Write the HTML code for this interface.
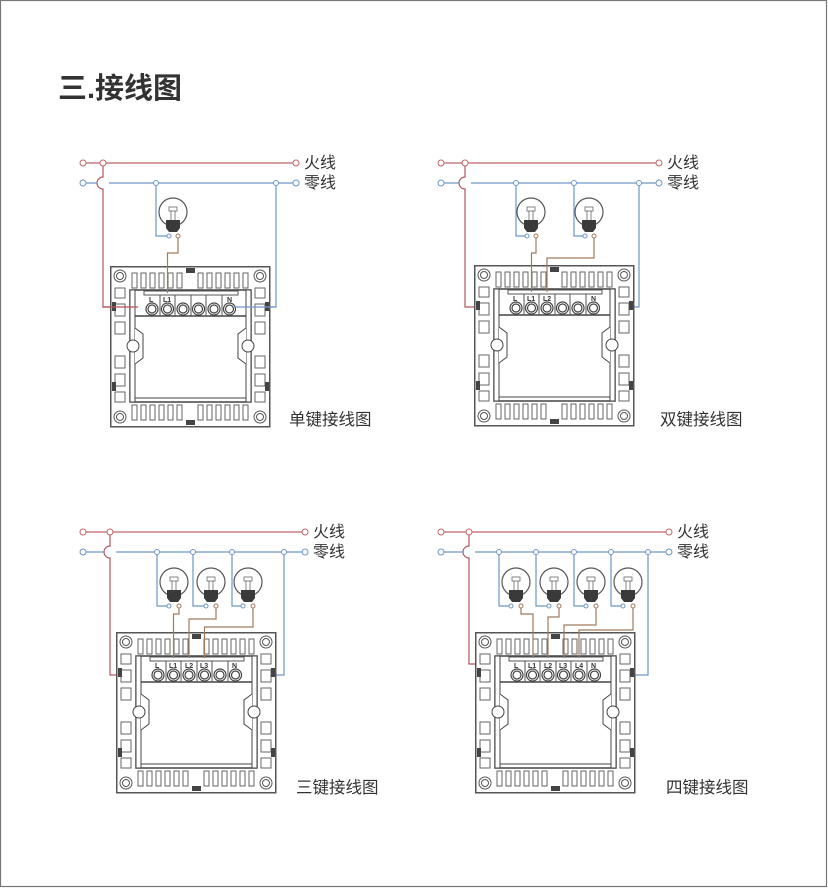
<!DOCTYPE html>
<html><head><meta charset="utf-8">
<style>
html,body{margin:0;padding:0;background:#fff;}
svg{display:block;}
text{font-family:"Liberation Sans","Noto Sans CJK SC",sans-serif;}
</style></head>
<body>
<svg width="828" height="888" viewBox="0 0 828 888" xmlns="http://www.w3.org/2000/svg">
<defs>
<g id="plate">
  <rect x="0.75" y="0.75" width="159" height="160" fill="#fff" stroke="#555" stroke-width="1.5"/>
  <g fill="#fff" stroke="#555" stroke-width="1">
    <circle cx="10" cy="10" r="6"/><circle cx="10" cy="10" r="3.5"/>
    <circle cx="150" cy="10" r="6"/><circle cx="150" cy="10" r="3.5"/>
    <circle cx="10" cy="151" r="6"/><circle cx="10" cy="151" r="3.5"/>
    <circle cx="150" cy="151" r="6"/><circle cx="150" cy="151" r="3.5"/>
  </g>
  <g fill="none" stroke="#666" stroke-width="1">
    <rect x="22" y="7" width="5" height="15"/><rect x="31" y="7" width="5" height="15"/><rect x="40" y="7" width="5" height="15"/><rect x="49" y="7" width="5" height="15"/><rect x="58" y="7" width="5" height="15"/><rect x="67" y="7" width="5" height="15"/>
    <rect x="88" y="7" width="5" height="15"/><rect x="97" y="7" width="5" height="15"/><rect x="106" y="7" width="5" height="15"/><rect x="115" y="7" width="5" height="15"/><rect x="124" y="7" width="5" height="15"/><rect x="133" y="7" width="5" height="15"/>
    <rect x="22" y="139" width="5" height="15"/><rect x="31" y="139" width="5" height="15"/><rect x="40" y="139" width="5" height="15"/><rect x="49" y="139" width="5" height="15"/><rect x="58" y="139" width="5" height="15"/><rect x="67" y="139" width="5" height="15"/>
    <rect x="88" y="139" width="5" height="15"/><rect x="97" y="139" width="5" height="15"/><rect x="106" y="139" width="5" height="15"/><rect x="115" y="139" width="5" height="15"/><rect x="124" y="139" width="5" height="15"/><rect x="133" y="139" width="5" height="15"/>
    <rect x="5" y="22" width="10" height="10"/><rect x="5" y="38" width="10" height="12"/><rect x="5" y="56" width="10" height="12"/><rect x="5" y="90" width="10" height="12"/><rect x="5" y="108" width="10" height="12"/><rect x="5" y="126" width="10" height="10"/>
    <rect x="145" y="22" width="10" height="10"/><rect x="145" y="38" width="10" height="12"/><rect x="145" y="56" width="10" height="12"/><rect x="145" y="90" width="10" height="12"/><rect x="145" y="108" width="10" height="12"/><rect x="145" y="126" width="10" height="10"/>
  </g>
  <rect x="76" y="2" width="9" height="5" fill="#444"/>
  <rect x="76" y="154" width="9" height="5" fill="#444"/>
  <rect x="2" y="36" width="4" height="9" fill="#444"/>
  <rect x="2" y="116" width="4" height="9" fill="#444"/>
  <rect x="155" y="36" width="4" height="9" fill="#444"/>
  <rect x="155" y="116" width="4" height="9" fill="#444"/>
  <rect x="20" y="24" width="121" height="112" fill="#fff" stroke="#444" stroke-width="1.5"/>
  <rect x="20" y="24" width="5" height="112" fill="#fff" stroke="#444" stroke-width="1"/>
  <rect x="136" y="24" width="5" height="112" fill="#fff" stroke="#444" stroke-width="1"/>
  <line x1="25" y1="132" x2="136" y2="132" stroke="#444" stroke-width="1"/>
  <path d="M25 62 L33 68 L33 92 L25 98" fill="#fff" stroke="#444" stroke-width="1"/>
  <path d="M136 62 L128 68 L128 92 L136 98" fill="#fff" stroke="#444" stroke-width="1"/>
  <circle cx="23" cy="80" r="6" fill="#fff" stroke="#444" stroke-width="1"/>
  <circle cx="138" cy="80" r="6" fill="#fff" stroke="#444" stroke-width="1"/>
  <rect x="34" y="25" width="94" height="4" fill="#fff" stroke="#555" stroke-width="1"/>
  <line x1="25" y1="50" x2="136" y2="50" stroke="#444" stroke-width="1.5"/>
  <g fill="#fff" stroke="#444" stroke-width="1.2">
    <circle cx="42" cy="43" r="6"/><circle cx="57.5" cy="43" r="6"/><circle cx="73" cy="43" r="6"/><circle cx="88.5" cy="43" r="6"/><circle cx="104" cy="43" r="6"/><circle cx="119.5" cy="43" r="6"/>
    <circle cx="42" cy="43" r="4"/><circle cx="57.5" cy="43" r="4"/><circle cx="73" cy="43" r="4"/><circle cx="88.5" cy="43" r="4"/><circle cx="104" cy="43" r="4"/><circle cx="119.5" cy="43" r="4"/>
  </g>
  <g stroke="#555" stroke-width="1"><line x1="50" y1="29" x2="50" y2="50"/><line x1="65" y1="29" x2="65" y2="50"/><line x1="81" y1="29" x2="81" y2="50"/><line x1="96" y1="29" x2="96" y2="50"/><line x1="112" y1="29" x2="112" y2="50"/></g>
</g>
<g id="bulb">
  <circle cx="0" cy="0" r="14" fill="#fff" stroke="#555" stroke-width="1.2"/>
  <rect x="-4" y="-5" width="8" height="4" fill="none" stroke="#666" stroke-width="0.8"/>
  <path d="M-2 -1 V8 M2 -1 V8" stroke="#666" stroke-width="0.8"/>
  <path d="M-7 8 H7 V16 L4 20 H-4 L-7 16 Z" fill="#3a3a3a"/>
</g>
</defs>

<rect x="0.5" y="0.5" width="826" height="886" fill="#fff" stroke="#777" stroke-width="1.2"/>
<text x="58" y="98" font-size="29" font-weight="bold" fill="#333">三.接线图</text>

<g font-size="16" fill="#333">
<g fill="none" stroke-width="1.2">
  <path d="M83 163 H296" stroke="#c0656a"/>
  <path d="M103 163 V177 A6 6 0 0 0 103 189 V307 H140" stroke="#b5545a"/>
  <path d="M83 183 H97 M109 183 H296" stroke="#6e96c8"/>
  <path d="M156 183 V236 H169" stroke="#6e96c8"/>
  <path d="M232 307 H276 V183" stroke="#6e96c8"/>
</g>
<use href="#plate" x="110" y="266"/>
<use href="#bulb" x="173" y="212"/>
<path d="M178 236 V253 H167.5 V293" fill="none" stroke="#a07a5e" stroke-width="1.2"/>
<path d="M103 307 H138" stroke="#b5545a" stroke-width="1.2"/>
<path d="M234 307 H276" stroke="#6e96c8" stroke-width="1.2"/>
<g fill="#fff" stroke-width="1">
  <circle cx="83" cy="163" r="3" stroke="#c0656a"/><circle cx="103" cy="163" r="3" stroke="#c0656a"/><circle cx="296" cy="163" r="3" stroke="#c0656a"/>
  <circle cx="83" cy="183" r="3" stroke="#6e96c8"/><circle cx="156" cy="183" r="2.5" stroke="#6e96c8"/><circle cx="276" cy="183" r="2.5" stroke="#6e96c8"/><circle cx="296" cy="183" r="3" stroke="#6e96c8"/>
  <circle cx="169" cy="236" r="2" stroke="#6e96c8"/><circle cx="178" cy="236" r="2" stroke="#a07a5e"/>
</g>
<g font-size="7" font-weight="bold" fill="#333"><text x="149" y="302">L</text><text x="163" y="302">L1</text><text x="227" y="302">N</text></g>
<text x="304" y="168">火线</text><text x="304" y="188">零线</text>
<text x="289" y="425" font-size="16.5">单键接线图</text>

<g fill="none" stroke-width="1.2">
  <path d="M441 163 H659" stroke="#c0656a"/>
  <path d="M465 163 V177 A6 6 0 0 0 465 189 V307 H502" stroke="#b5545a"/>
  <path d="M441 183 H459 M471 183 H659" stroke="#6e96c8"/>
  <path d="M516 183 V236 H527" stroke="#6e96c8"/>
  <path d="M574 183 V236 H585" stroke="#6e96c8"/>
  <path d="M596 307 H639 V183" stroke="#6e96c8"/>
</g>
<use href="#plate" x="474" y="265"/>
<use href="#bulb" x="531" y="212"/>
<use href="#bulb" x="589" y="212"/>
<path d="M536 236 V253 H531.5 V292" fill="none" stroke="#a07a5e" stroke-width="1.2"/>
<path d="M594 236 V258 H547 V292" fill="none" stroke="#a07a5e" stroke-width="1.2"/>
<g fill="#fff" stroke-width="1">
  <circle cx="441" cy="163" r="3" stroke="#c0656a"/><circle cx="465" cy="163" r="3" stroke="#c0656a"/><circle cx="659" cy="163" r="3" stroke="#c0656a"/>
  <circle cx="441" cy="183" r="3" stroke="#6e96c8"/><circle cx="516" cy="183" r="2.5" stroke="#6e96c8"/><circle cx="574" cy="183" r="2.5" stroke="#6e96c8"/><circle cx="639" cy="183" r="2.5" stroke="#6e96c8"/><circle cx="659" cy="183" r="3" stroke="#6e96c8"/>
  <circle cx="527" cy="236" r="2" stroke="#6e96c8"/><circle cx="536" cy="236" r="2" stroke="#a07a5e"/>
  <circle cx="585" cy="236" r="2" stroke="#6e96c8"/><circle cx="594" cy="236" r="2" stroke="#a07a5e"/>
</g>
<g font-size="7" font-weight="bold" fill="#333"><text x="513" y="301">L</text><text x="527" y="301">L1</text><text x="543" y="301">L2</text><text x="591" y="301">N</text></g>
<text x="667" y="168">火线</text><text x="667" y="188">零线</text>
<text x="660" y="425" font-size="16.5">双键接线图</text>

<g fill="none" stroke-width="1.2">
  <path d="M83 532 H305" stroke="#c0656a"/>
  <path d="M110 532 V546 A6 6 0 0 0 110 558 V675 H148" stroke="#b5545a"/>
  <path d="M83 552 H104 M116 552 H305" stroke="#6e96c8"/>
  <path d="M157 552 V606 H169" stroke="#6e96c8"/>
  <path d="M193 552 V606 H206" stroke="#6e96c8"/>
  <path d="M232 552 V606 H243" stroke="#6e96c8"/>
  <path d="M242 675 H284 V552" stroke="#6e96c8"/>
</g>
<use href="#plate" x="116" y="632"/>
<use href="#bulb" x="174" y="582"/>
<use href="#bulb" x="211" y="582"/>
<use href="#bulb" x="248" y="582"/>
<path d="M179 606 V614 H173.5 V658" fill="none" stroke="#a07a5e" stroke-width="1.2"/>
<path d="M216 606 V619 H189 V658" fill="none" stroke="#a07a5e" stroke-width="1.2"/>
<path d="M253 606 V627 H204.5 V658" fill="none" stroke="#a07a5e" stroke-width="1.2"/>
<g fill="#fff" stroke-width="1">
  <circle cx="83" cy="532" r="3" stroke="#c0656a"/><circle cx="110" cy="532" r="3" stroke="#c0656a"/><circle cx="305" cy="532" r="3" stroke="#c0656a"/>
  <circle cx="83" cy="552" r="3" stroke="#6e96c8"/><circle cx="157" cy="552" r="2.5" stroke="#6e96c8"/><circle cx="193" cy="552" r="2.5" stroke="#6e96c8"/><circle cx="232" cy="552" r="2.5" stroke="#6e96c8"/><circle cx="284" cy="552" r="2.5" stroke="#6e96c8"/><circle cx="305" cy="552" r="3" stroke="#6e96c8"/>
  <circle cx="169" cy="606" r="2" stroke="#6e96c8"/><circle cx="179" cy="606" r="2" stroke="#a07a5e"/>
  <circle cx="206" cy="606" r="2" stroke="#6e96c8"/><circle cx="216" cy="606" r="2" stroke="#a07a5e"/>
  <circle cx="243" cy="606" r="2" stroke="#6e96c8"/><circle cx="253" cy="606" r="2" stroke="#a07a5e"/>
</g>
<g font-size="7" font-weight="bold" fill="#333"><text x="155" y="668">L</text><text x="169" y="668">L1</text><text x="185" y="668">L2</text><text x="200" y="668">L3</text><text x="232" y="668">N</text></g>
<text x="313" y="537">火线</text><text x="313" y="557">零线</text>
<text x="296" y="793" font-size="16.5">三键接线图</text>

<g fill="none" stroke-width="1.2">
  <path d="M441 532 H669" stroke="#c0656a"/>
  <path d="M469 532 V546 A6 6 0 0 0 469 558 V664 H506" stroke="#b5545a"/>
  <path d="M441 552 H463 M475 552 H669" stroke="#6e96c8"/>
  <path d="M499 552 V606 H511" stroke="#6e96c8"/>
  <path d="M536 552 V606 H549" stroke="#6e96c8"/>
  <path d="M574 552 V606 H586" stroke="#6e96c8"/>
  <path d="M611 552 V606 H623" stroke="#6e96c8"/>
  <path d="M602 675 H648 V552" stroke="#6e96c8"/>
</g>
<use href="#plate" x="475" y="632"/>
<use href="#bulb" x="516" y="582"/>
<use href="#bulb" x="554" y="582"/>
<use href="#bulb" x="591" y="582"/>
<use href="#bulb" x="628" y="582"/>
<path d="M521 606 V614 H533 V658" fill="none" stroke="#a07a5e" stroke-width="1.2"/>
<path d="M559 606 V617 H548 V658" fill="none" stroke="#a07a5e" stroke-width="1.2"/>
<path d="M596 606 V625 H564 V658" fill="none" stroke="#a07a5e" stroke-width="1.2"/>
<path d="M633 606 V630 H579 V658" fill="none" stroke="#a07a5e" stroke-width="1.2"/>
<g fill="#fff" stroke-width="1">
  <circle cx="441" cy="532" r="3" stroke="#c0656a"/><circle cx="469" cy="532" r="3" stroke="#c0656a"/><circle cx="669" cy="532" r="3" stroke="#c0656a"/>
  <circle cx="441" cy="552" r="3" stroke="#6e96c8"/><circle cx="499" cy="552" r="2.5" stroke="#6e96c8"/><circle cx="536" cy="552" r="2.5" stroke="#6e96c8"/><circle cx="574" cy="552" r="2.5" stroke="#6e96c8"/><circle cx="611" cy="552" r="2.5" stroke="#6e96c8"/><circle cx="648" cy="552" r="2.5" stroke="#6e96c8"/><circle cx="669" cy="552" r="3" stroke="#6e96c8"/>
  <circle cx="511" cy="606" r="2" stroke="#6e96c8"/><circle cx="521" cy="606" r="2" stroke="#a07a5e"/>
  <circle cx="549" cy="606" r="2" stroke="#6e96c8"/><circle cx="559" cy="606" r="2" stroke="#a07a5e"/>
  <circle cx="586" cy="606" r="2" stroke="#6e96c8"/><circle cx="596" cy="606" r="2" stroke="#a07a5e"/>
  <circle cx="623" cy="606" r="2" stroke="#6e96c8"/><circle cx="633" cy="606" r="2" stroke="#a07a5e"/>
</g>
<g font-size="7" font-weight="bold" fill="#333"><text x="514" y="668">L</text><text x="528" y="668">L1</text><text x="544" y="668">L2</text><text x="559" y="668">L3</text><text x="575" y="668">L4</text><text x="591" y="668">N</text></g>
<text x="677" y="537">火线</text><text x="677" y="557">零线</text>
<text x="666" y="793" font-size="16.5">四键接线图</text>
</g>
</svg>
</body></html>
